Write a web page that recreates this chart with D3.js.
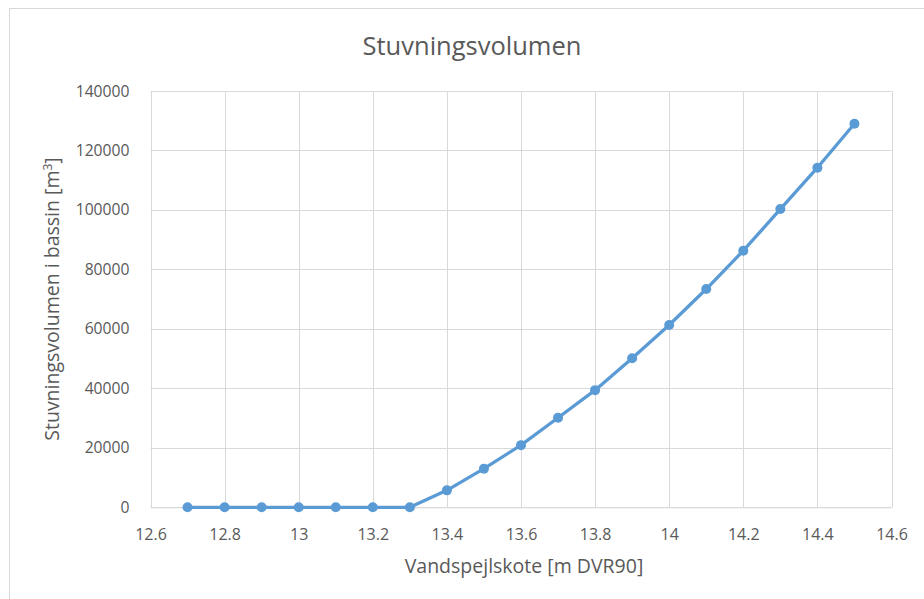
<!DOCTYPE html>
<html><head><meta charset="utf-8">
<script src="https://cdn.jsdelivr.net/npm/d3@7"></script>
<style>body{margin:0;background:#fff}svg{display:block}text{font-family:"Open Sans",sans-serif;fill:#595959}</style>
</head><body><svg id="c" width="924" height="599"></svg>
<script>
const title = "Stuvningsvolumen";
const xTitle = "Vandspejlskote [m DVR90]";
const yTitle = "Stuvningsvolumen i bassin [m";
const xValues = [12.7,12.8,12.9,13.0,13.1,13.2,13.3,13.4,13.5,13.6,13.7,13.8,13.9,14.0,14.1,14.2,14.3,14.4,14.5];
const yValues = [0,0,0,0,0,0,0,5700,13000,20900,30100,39400,50100,61300,73400,86300,100300,114200,129000];
const xTicks = [12.6,12.8,13.0,13.2,13.4,13.6,13.8,14.0,14.2,14.4,14.6];
const yTicks = [0,20000,40000,60000,80000,100000,120000,140000];

const svg = d3.select("#c");
const m = {l:150.5, r:891.5, t:91, b:507.3};
const x = d3.scaleLinear().domain([12.6,14.6]).range([m.l,m.r]);
const y = d3.scaleLinear().domain([0,140000]).range([m.b,m.t]);

// chart border
svg.append("rect").attr("x",9.5).attr("y",8.5).attr("width",930).attr("height",600)
  .attr("fill","none").attr("stroke","#d9d9d9");

// grid
const g = svg.append("g");
g.selectAll(".vg").data(xTicks).join("line")
  .attr("x1",d=>Math.round(x(d))+0.5).attr("x2",d=>Math.round(x(d))+0.5)
  .attr("y1",m.t).attr("y2",m.b).attr("stroke","#d9d9d9");
g.selectAll(".hg").data(yTicks).join("line")
  .attr("y1",d=>Math.round(y(d))+0.5).attr("y2",d=>Math.round(y(d))+0.5)
  .attr("x1",m.l).attr("x2",m.r).attr("stroke","#d9d9d9");

// axes via d3 axis
const fmtX = d => (+d.toFixed(1)).toString();
const xAxis = svg.append("g").attr("transform",`translate(0,${m.b})`)
  .call(d3.axisBottom(x).tickValues(xTicks).tickFormat(fmtX).tickSize(0).tickPadding(21));
xAxis.select(".domain").attr("stroke","#d9d9d9");
xAxis.selectAll("text").attr("font-size",16).attr("fill","#595959").attr("font-family","Open Sans");
const yAxis = svg.append("g").attr("transform",`translate(${m.l},0)`)
  .call(d3.axisLeft(y).tickValues(yTicks).tickFormat(d=>d.toString()).tickSize(0).tickPadding(21));
yAxis.select(".domain").remove();
yAxis.selectAll("text").attr("font-size",15.7).attr("fill","#595959").attr("font-family","Open Sans");

// titles
svg.append("text").attr("x",472).attr("y",55).attr("text-anchor","middle")
  .attr("font-size",25.5).text(title);
svg.append("text").attr("x",524).attr("y",573).attr("text-anchor","middle")
  .attr("font-size",19.5).text(xTitle);
const yt = svg.append("text").attr("transform","translate(59,299) rotate(-90)")
  .attr("text-anchor","middle").attr("font-size",19.5);
yt.append("tspan").text(yTitle);
yt.append("tspan").attr("font-size",12).attr("dy",-7).text("3");
yt.append("tspan").attr("dy",7).text("]");

// line
const pts = xValues.map((v,i)=>[v,yValues[i]]);
svg.append("path").datum(pts).attr("fill","none").attr("stroke","#5b9bd5")
  .attr("stroke-width",3.3).attr("stroke-linejoin","round")
  .attr("d",d3.line().x(d=>x(d[0])).y(d=>y(d[1])));
svg.selectAll(".pt").data(pts).join("circle")
  .attr("cx",d=>x(d[0])).attr("cy",d=>y(d[1])).attr("r",5).attr("fill","#5b9bd5");
</script></body></html>
